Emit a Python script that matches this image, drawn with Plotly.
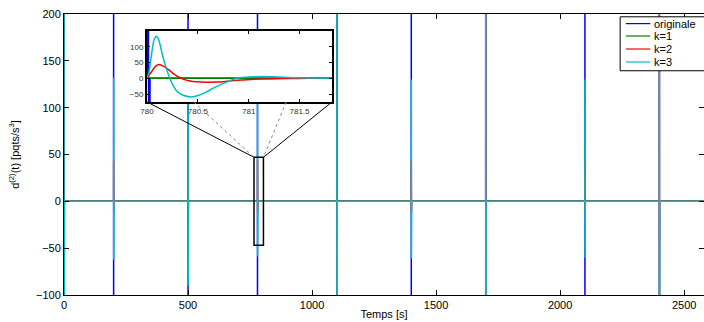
import plotly.graph_objects as go

# ---------------- data ----------------
series_names = ["originale", "k=1", "k=2", "k=3"]
series_colors = ["#0000FF", "#008000", "#FF0000", "#00BFBF"]

event_times = [0, 200, 500, 780, 1100, 1400, 1700, 2100, 2400]
t_end = 2600

orig_peak = [1000, 1000, 1000, 1000, 1000, 1000, 1000, 1000, 1000]
orig_trough = [-1000, -1000, -1000, -1000, -1000, -1000, -1000, -1000, -1000]
k1_values = [0, 0, 0, 0, 0, 0, 0, 0, 0]
k2_peak = [300, 43, 60, 44, 300, 43, 300, 43, 300]
k2_trough = [-100, -12, -40, -12, -100, -12, -100, -12, -100]
k3_peak = [900, 132, 180, 133, 900, 130, 900, 130, 900]
k3_trough = [-900, -62, -90, -59, -900, -61, -900, -60, -900]

# detailed response around t = 780 s (zoom window)
zoom_event = 780
k3_zoom_dt = [0.0, 0.02, 0.04, 0.06, 0.075, 0.093, 0.11, 0.13, 0.149, 0.18, 0.224, 0.26,
              0.296, 0.35, 0.433, 0.51, 0.59, 0.67, 0.753, 0.82, 0.884, 0.96, 1.05, 1.24,
              1.44, 1.6, 1.82]
k3_zoom_v = [0, 20, 65, 109, 127, 133, 126, 105, 78, 42, 0, -25,
             -42, -53, -59, -54, -42, -28, -16, -7, 0, 3, 5, 5,
             2, 1, 0]
k2_zoom_dt = [0.0, 0.03, 0.067, 0.09, 0.116, 0.15, 0.198, 0.24, 0.28, 0.33, 0.377, 0.45,
              0.525, 0.6, 0.69, 0.77, 0.85, 0.95, 1.05, 1.2, 1.35, 1.6, 1.82]
k2_zoom_v = [0, 14, 31, 40, 44, 40, 31, 20, 10, 1, -5, -10,
             -12, -12.5, -12, -10, -7, -5, -3, -2, -1, 0, 0]

x_ticks = [0, 500, 1000, 1500, 2000, 2500]
y_ticks = [-100, -50, 0, 50, 100, 150, 200]
inset_x_ticks = [780, 780.5, 781, 781.5]
inset_x_ticktext = ["780", "780.5", "781", "781.5"]
inset_y_ticks = [-50, 0, 50, 100]

# zoom rectangle on the main plot
zoom_rect_x = [766, 804]
zoom_rect_y = [-47, 47]

# ---------------- build series ----------------
def spike_series(peaks, troughs, dt_peak, dt_trough, dt_end, zoom_dt=None, zoom_v=None):
    xs, ys = [], []
    for t, p, q in zip(event_times, peaks, troughs):
        if zoom_dt is not None and t == zoom_event:
            xs += [t + d for d in zoom_dt]
            ys += list(zoom_v)
        else:
            xs += [t, t + dt_peak, t + dt_trough, t + dt_end]
            ys += [0, p, q, 0]
    xs.append(t_end)
    ys.append(0)
    return xs, ys

orig_x, orig_y = spike_series(orig_peak, orig_trough, 0.01, 0.02, 0.03)
k1_x = event_times + [t_end]
k1_y = k1_values + [0]
k2_x, k2_y = spike_series(k2_peak, k2_trough, 0.12, 0.6, 1.8, k2_zoom_dt, k2_zoom_v)
k3_x, k3_y = spike_series(k3_peak, k3_trough, 0.09, 0.43, 1.8, k3_zoom_dt, k3_zoom_v)

main_data = [(orig_x, orig_y), (k1_x, k1_y), (k2_x, k2_y), (k3_x, k3_y)]

fig = go.Figure()
for (xs, ys), name, col in zip(main_data, series_names, series_colors):
    fig.add_trace(go.Scatter(x=xs, y=ys, mode="lines", name=name,
                             line=dict(color=col, width=1.5),
                             showlegend=False, xaxis="x", yaxis="y"))

# inset traces
inset_data = [
    (orig_x, orig_y, "linear"),
    (k1_x, k1_y, "linear"),
    ([zoom_event + d for d in k2_zoom_dt], k2_zoom_v, "spline"),
    ([zoom_event + d for d in k3_zoom_dt], k3_zoom_v, "spline"),
]
for (xs, ys, shp), name, col in zip(inset_data, series_names, series_colors):
    fig.add_trace(go.Scatter(x=xs, y=ys, mode="lines", name=name,
                             line=dict(color=col, width=1.5, shape=shp, smoothing=0.5),
                             showlegend=False, xaxis="x2", yaxis="y2"))

# ---------------- layout ----------------
main_xr = [0, 2580]
main_yr = [-100, 200]
inset_xd = [0.1297, 0.4188]
inset_yd = [0.687, 0.9395]
inset_xr = [780, 781.82]
inset_yr = [-75, 150]

font = "Liberation Sans, Arial, Helvetica, sans-serif"

fig.update_layout(
    width=704, height=322,
    margin=dict(l=64, r=0, t=14, b=27),
    paper_bgcolor="white", plot_bgcolor="white",
    font=dict(family=font, size=11, color="black"),
    showlegend=False,
    xaxis=dict(domain=[0, 1], range=main_xr, tickvals=x_ticks,
               ticks="inside", ticklen=5, tickcolor="black",
               showline=True, linecolor="black", linewidth=1, mirror="ticks",
               showgrid=False, zeroline=False, automargin=False,
               tickfont=dict(size=11),
               title=dict(text="Temps [s]", font=dict(size=11), standoff=0)),
    yaxis=dict(domain=[0, 1], range=main_yr, tickvals=y_ticks,
               ticks="inside", ticklen=5, tickcolor="black",
               showline=True, linecolor="black", linewidth=1, mirror="ticks",
               showgrid=False, zeroline=False, automargin=False,
               tickfont=dict(size=11),
               title=dict(text="d<sup>(2)</sup>(t) [pqts/s<sup>3</sup>]",
                          font=dict(size=11), standoff=14)),
    xaxis2=dict(domain=inset_xd, anchor="y2", range=inset_xr,
                tickvals=inset_x_ticks, ticktext=inset_x_ticktext,
                ticks="inside", ticklen=3, tickcolor="black",
                showline=True, linecolor="black", linewidth=2, mirror="ticks",
                showgrid=False, zeroline=False, automargin=False,
                tickfont=dict(size=8, color="#333333")),
    yaxis2=dict(domain=inset_yd, anchor="x2", range=inset_yr,
                tickvals=inset_y_ticks,
                ticks="inside", ticklen=3, tickcolor="black",
                showline=True, linecolor="black", linewidth=2, mirror="ticks",
                showgrid=False, zeroline=False, automargin=False,
                tickfont=dict(size=8, color="#333333")),
)

# connection lines from inset to zoom rectangle (in main-data units)
def paper_to_main_x(p):
    return main_xr[0] + p * (main_xr[1] - main_xr[0])

def paper_to_main_y(p):
    return main_yr[0] + p * (main_yr[1] - main_yr[0])

def inset_to_paper_x(v):
    return inset_xd[0] + (v - inset_xr[0]) / (inset_xr[1] - inset_xr[0]) * (inset_xd[1] - inset_xd[0])

y_inset_bottom = paper_to_main_y(inset_yd[0])
x_inset_left = paper_to_main_x(inset_xd[0])
x_inset_right = paper_to_main_x(inset_xd[1])
x_dot_left = paper_to_main_x(inset_to_paper_x(780.46))
x_dot_right = paper_to_main_x(inset_to_paper_x(781.37))

shapes = [
    dict(type="rect", xref="x", yref="y", x0=zoom_rect_x[0], x1=zoom_rect_x[1],
         y0=zoom_rect_y[0], y1=zoom_rect_y[1], line=dict(color="black", width=1.5)),
    dict(type="line", xref="x", yref="y", x0=x_inset_left, y0=y_inset_bottom,
         x1=zoom_rect_x[0], y1=zoom_rect_y[1], line=dict(color="black", width=1)),
    dict(type="line", xref="x", yref="y", x0=x_inset_right, y0=y_inset_bottom,
         x1=zoom_rect_x[1], y1=zoom_rect_y[1], line=dict(color="black", width=1)),
    dict(type="line", xref="x", yref="y", x0=x_dot_left, y0=y_inset_bottom,
         x1=zoom_rect_x[0], y1=zoom_rect_y[1], line=dict(color="#888888", width=1, dash="dot")),
    dict(type="line", xref="x", yref="y", x0=x_dot_right, y0=y_inset_bottom,
         x1=zoom_rect_x[1], y1=zoom_rect_y[1], line=dict(color="#888888", width=1, dash="dot")),
]

# legend box (drawn manually to reproduce the compact layout)
leg_x0, leg_x1 = 0.869, 1.05
leg_y0, leg_y1 = 0.798, 0.990
leg_rows = [0.9658, 0.9217, 0.8754, 0.8292]
shapes.append(dict(type="rect", xref="paper", yref="paper", x0=leg_x0, x1=leg_x1,
                   y0=leg_y0, y1=leg_y1, fillcolor="white",
                   line=dict(color="black", width=1)))
annotations = []
for name, col, yy in zip(series_names, series_colors, leg_rows):
    shapes.append(dict(type="line", xref="paper", yref="paper", x0=0.878, x1=0.916,
                       y0=yy, y1=yy, line=dict(color=col, width=1.2)))
    annotations.append(dict(xref="paper", yref="paper", x=0.919, y=yy, text=name,
                            showarrow=False, xanchor="left", yanchor="middle",
                            font=dict(size=11, color="black")))

fig.update_layout(shapes=shapes, annotations=annotations)

# remove the browser's default page margin so the 704x322 figure fills the window
fig.write_html("out.html", config={"displayModeBar": False},
               post_script="document.body.style.margin='0px';document.body.style.overflow='hidden';")
